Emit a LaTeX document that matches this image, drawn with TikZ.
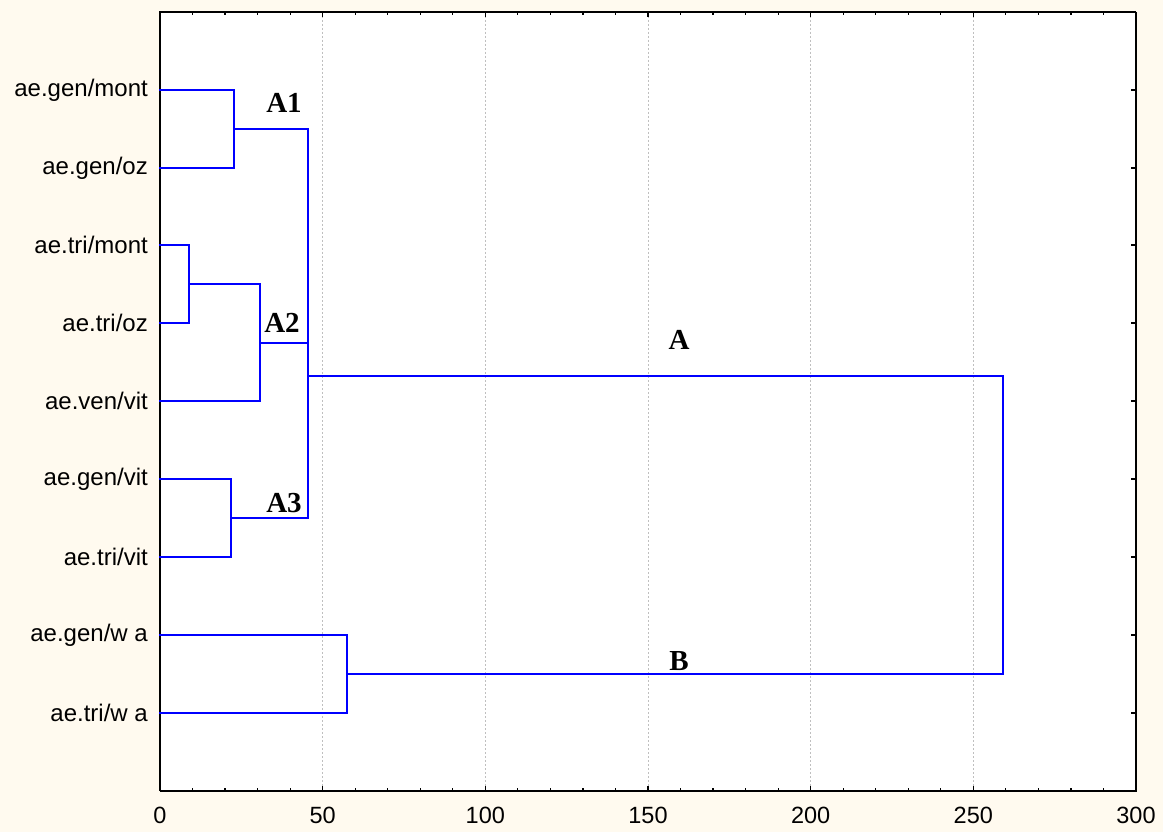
\documentclass[tikz,border=0pt]{standalone}
\usepackage{fontspec}
\setmainfont{Liberation Serif}
\setsansfont{Liberation Sans}
\definecolor{bgcream}{RGB}{255,250,239}
\definecolor{dendblue}{RGB}{0,0,255}
\tikzset{
  dend/.style={draw=dendblue,line width=2pt,line cap=rect},
  gridln/.style={draw=black!25,line width=0.7pt,dash pattern=on 2pt off 2pt},
  tick/.style={draw=black,line width=1.2pt},
  leaflbl/.style={font=\sffamily\fontsize{24}{28}\selectfont,anchor=east,inner sep=0pt},
  numlbl/.style={font=\sffamily\fontsize{23.5}{27}\selectfont,anchor=center,inner sep=0pt},
  clulbl/.style={font=\bfseries\fontsize{29}{33}\selectfont,anchor=center,inner sep=0pt}
}
\begin{document}
\begin{tikzpicture}[x=1pt,y=-1pt]
\fill[bgcream] (0,0) rectangle (1163,832);
\useasboundingbox (0,0) rectangle (1163,832);
\fill[white] (160,12) rectangle (1136,791);
% grid
\foreach \v in {50,100,...,250}
  \draw[gridln] ({160+3.2533*\v},12) -- ({160+3.2533*\v},791);
% top and bottom ticks
\foreach \v in {10,20,...,290}{
  \pgfmathsetmacro{\tl}{ifthenelse(mod(\v,50)==0,5,3.5)}
  \draw[tick] ({160+3.2533*\v},12) -- ({160+3.2533*\v},{12+\tl});
  \draw[tick] ({160+3.2533*\v},791) -- ({160+3.2533*\v},{791-\tl});
}
% leaves
\foreach \i/\y in {1/90,2/168,3/245,4/323,5/401,6/479,7/557,8/635,9/713}{
  \coordinate (L\i) at (160,\y);
  \draw[tick] (160,\y) -- (165,\y);
  \draw[tick] (1136,\y) -- (1131,\y);
}
% frame
\draw[black,line width=1.3pt] (160,791) -- (160,12) -- (1136,12);
\draw[black,line width=2.2pt] (1136,12) -- (1136,791) -- (160,791);
% joins
\coordinate (J1) at (234,129);
\coordinate (J2) at (189,284);
\coordinate (J3) at (260,343);
\coordinate (J4) at (231,518);
\coordinate (JA) at (308,376);
\coordinate (JB) at (347,674);
\coordinate (R)  at (1003,525);
% dendrogram
\draw[dend] (L1) -| (J1) |- (L2);
\draw[dend] (L3) -| (J2) |- (L4);
\draw[dend] (J2) -| (J3) |- (L5);
\draw[dend] (L6) -| (J4) |- (L7);
\draw[dend] (J1) -| (JA) |- (J4);
\draw[dend] (J3) -- (J3 -| JA);
\draw[dend] (L8) -| (JB) |- (L9);
\draw[dend] (JA) -| (R) |- (JB);
% leaf labels
\node[leaflbl] (n1) at (148,90)  {ae.gen/mont};
\node[leaflbl] (n2) at (148,168) {ae.gen/oz};
\node[leaflbl] (n3) at (148,245) {ae.tri/mont};
\node[leaflbl] (n4) at (148,323) {ae.tri/oz};
\node[leaflbl] (n5) at (148,401) {ae.ven/vit};
\node[leaflbl] (n6) at (148,479) {ae.gen/vit};
\node[leaflbl] (n7) at (148,557) {ae.tri/vit};
\node[leaflbl] (n8) at (148,635) {ae.gen/w a};
\node[leaflbl] (n9) at (148,713) {ae.tri/w a};
% axis numbers
\foreach \v in {0,50,...,300}
  \node[numlbl] (x\v) at ({160+3.2533*\v},815) {\v};
% cluster labels
\node[clulbl] (cA1) at (284,103) {A1};
\node[clulbl] (cA2) at (282,323) {A2};
\node[clulbl] (cA3) at (284,503) {A3};
\node[clulbl] (cA)  at (679,340) {A};
\node[clulbl] (cB)  at (679,661) {B};
\end{tikzpicture}
\end{document}
